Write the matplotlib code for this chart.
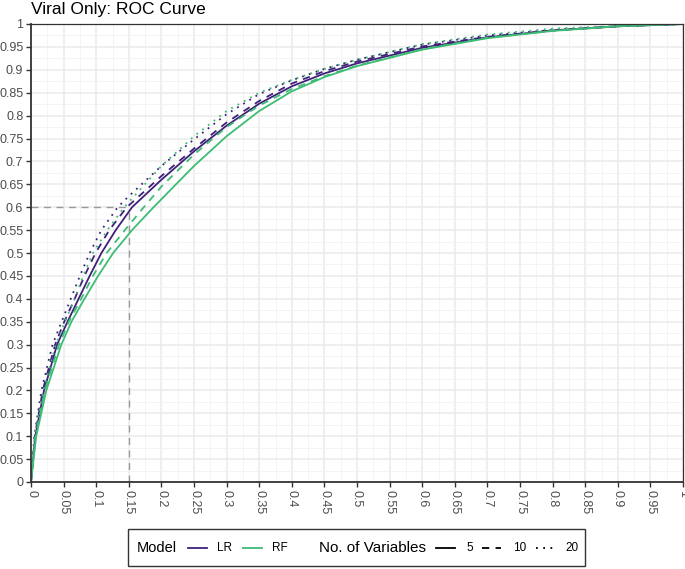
import matplotlib
matplotlib.use("Agg")
import matplotlib.pyplot as plt
from matplotlib.lines import Line2D
from matplotlib.patches import Rectangle
import numpy as np

plt.rcParams['font.family'] = ['Liberation Sans', 'DejaVu Sans']

# ROC curves (fpr, tpr) per model / number of variables
lr5_fpr = [0, 0.0066, 0.02, 0.04, 0.056, 0.073, 0.09, 0.108, 0.13, 0.155, 0.2, 0.25,
           0.3, 0.35, 0.4, 0.45, 0.5, 0.6, 0.7, 0.8, 0.9, 1.0]
lr5_tpr = [0, 0.1, 0.2, 0.3, 0.35, 0.4, 0.45, 0.5, 0.55, 0.6, 0.66, 0.722,
           0.778, 0.826, 0.864, 0.892, 0.914, 0.948, 0.971, 0.986, 0.995, 1.0]

lr10_fpr = [0, 0.006, 0.018, 0.037, 0.051, 0.067, 0.082, 0.099, 0.12, 0.147, 0.2, 0.25,
            0.3, 0.35, 0.4, 0.45, 0.5, 0.6, 0.7, 0.8, 0.9, 1.0]
lr10_tpr = [0, 0.1, 0.2, 0.3, 0.35, 0.4, 0.45, 0.5, 0.55, 0.6, 0.668, 0.728,
            0.785, 0.832, 0.87, 0.897, 0.918, 0.951, 0.972, 0.986, 0.995, 1.0]

lr20_fpr = [0, 0.005, 0.016, 0.033, 0.047, 0.061, 0.075, 0.09, 0.108, 0.133, 0.15, 0.2,
            0.25, 0.3, 0.35, 0.4, 0.45, 0.5, 0.6, 0.7, 0.8, 0.9, 1.0]
lr20_tpr = [0, 0.1, 0.2, 0.3, 0.35, 0.4, 0.45, 0.5, 0.55, 0.6, 0.624, 0.69,
            0.748, 0.803, 0.847, 0.877, 0.902, 0.922, 0.955, 0.975, 0.987, 0.995, 1.0]

rf5_fpr = [0, 0.008, 0.0235, 0.0465, 0.062, 0.082, 0.103, 0.126, 0.155, 0.188, 0.25,
           0.3, 0.35, 0.4, 0.45, 0.5, 0.6, 0.7, 0.8, 0.9, 1.0]
rf5_tpr = [0, 0.1, 0.2, 0.3, 0.35, 0.4, 0.45, 0.5, 0.55, 0.6, 0.69,
           0.755, 0.81, 0.853, 0.884, 0.908, 0.944, 0.969, 0.985, 0.995, 1.0]

rf10_fpr = [0, 0.007, 0.021, 0.043, 0.058, 0.077, 0.095, 0.116, 0.144, 0.173, 0.2, 0.25,
            0.3, 0.35, 0.4, 0.45, 0.5, 0.6, 0.7, 0.8, 0.9, 1.0]
rf10_tpr = [0, 0.1, 0.2, 0.3, 0.35, 0.4, 0.45, 0.5, 0.55, 0.6, 0.645, 0.715,
            0.775, 0.822, 0.858, 0.886, 0.909, 0.945, 0.97, 0.985, 0.995, 1.0]

rf20_fpr = [0, 0.006, 0.019, 0.038, 0.052, 0.067, 0.08, 0.095, 0.117, 0.143, 0.2, 0.25,
            0.3, 0.35, 0.4, 0.45, 0.5, 0.6, 0.7, 0.8, 0.9, 1.0]
rf20_tpr = [0, 0.1, 0.2, 0.3, 0.35, 0.4, 0.45, 0.5, 0.55, 0.6, 0.69, 0.755,
            0.81, 0.85, 0.878, 0.902, 0.922, 0.956, 0.977, 0.99, 0.996, 1.0]

purple = '#40217A'
green = '#3DBC74'
styles = {'5': '-', '10': (0, (4, 3.5)), '20': (0, (1, 3))}

curves = [
    (lr5_fpr, lr5_tpr, purple, '5'), (lr10_fpr, lr10_tpr, purple, '10'),
    (lr20_fpr, lr20_tpr, purple, '20'),
    (rf5_fpr, rf5_tpr, green, '5'), (rf10_fpr, rf10_tpr, green, '10'),
    (rf20_fpr, rf20_tpr, green, '20'),
]

fig = plt.figure(figsize=(6.85, 5.69), dpi=100)
ax = fig.add_axes([31/685, 1 - 482/569, 652/685, 458/569])

ticks = np.round(np.arange(0, 1.0001, 0.05), 2)
minor = np.round(np.arange(0.025, 1, 0.05), 3)
ax.set_xticks(ticks)
ax.set_yticks(ticks)
ax.set_xticks(minor, minor=True)
ax.set_yticks(minor, minor=True)
ax.set_xticklabels(['%g' % t for t in ticks], rotation=-90, fontsize=9, color='#4D4D4D')
ax.set_yticklabels(['%g' % t for t in ticks], fontsize=9, color='#4D4D4D')
ax.tick_params(which='major', length=3.5, color='#333333', width=1, pad=2)
ax.tick_params(which='minor', length=0)
ax.grid(which='major', color='#EBEBEB', lw=1.1)
ax.grid(which='minor', color='#F2F2F2', lw=0.6)
ax.set_axisbelow(True)
for side in ['top', 'right']:
    ax.spines[side].set_color('#333333')
    ax.spines[side].set_linewidth(0.9)
for side in ['left', 'bottom']:
    ax.spines[side].set_color('#333333')
    ax.spines[side].set_linewidth(1.3)

# reference lines at FPR 0.15 / TPR 0.6
ax.plot([0, 0.15], [0.6, 0.6], color='#999999', lw=1, ls=(0, (5, 4)))
ax.plot([0.15, 0.15], [0, 0.6], color='#999999', lw=1, ls=(0, (5, 4)))

for f, t, col, nv in curves:
    ax.plot(f, t, color=col, ls=styles[nv], lw=1.3)

ax.set_xlim(0, 1)
ax.set_ylim(0, 1)

fig.text(31/685, 1 - 14/569, 'Viral Only: ROC Curve', fontsize=12.5, va='baseline', ha='left')

# legend box drawn manually
fig.patches.append(Rectangle((128/685, 1 - 566/569), 457/685, 37/569,
                             transform=fig.transFigure, fill=False, ec='#333333', lw=1))
ly = 1 - 548/569


def fx(px):
    return px / 685


def key(x0, col, ls):
    fig.lines.append(Line2D([fx(x0), fx(x0 + 19)], [ly, ly], color=col, lw=1.3, ls=ls,
                            transform=fig.transFigure))


fig.text(fx(137), ly, 'Model', fontsize=10.5, va='center')
key(188, purple, '-')
fig.text(fx(217), ly, 'LR', fontsize=8.5, va='center')
key(243, green, '-')
fig.text(fx(272), ly, 'RF', fontsize=8.5, va='center')
fig.text(fx(319), ly, 'No. of Variables', fontsize=11, va='center')
key(436, 'black', styles['5'])
fig.text(fx(466), ly, '5', fontsize=8.5, va='center')
key(482, 'black', styles['10'])
fig.text(fx(513), ly, '10', fontsize=8.5, va='center')
key(536, 'black', styles['20'])
fig.text(fx(565), ly, '20', fontsize=8.5, va='center')

fig.savefig('out.png', dpi=100)
